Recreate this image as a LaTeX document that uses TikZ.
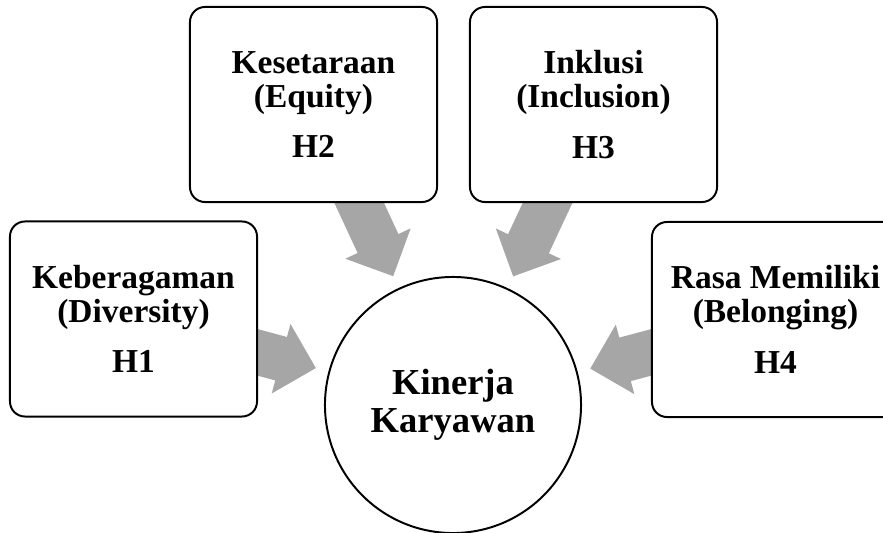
\documentclass[tikz,border=0pt]{standalone}
\usepackage{fontspec}
\setmainfont{Liberation Serif}
\usetikzlibrary{calc, backgrounds}
\definecolor{abuPanah}{HTML}{A6A6A6}

\begin{document}
\begin{tikzpicture}[x=0.025cm, y=-0.025cm,
        var/.style={draw=black, fill=white, line width=1.4pt, rounded corners=0.375cm,
            minimum width=6.175cm, minimum height=4.875cm, align=center, inner sep=2pt,
            font=\fontsize{23.8}{24}\selectfont\bfseries},
        dep/.style={draw=black, fill=white, circle, line width=1.4pt, minimum size=6.4cm,
            align=center, inner sep=0pt, font=\fontsize{26}{27}\selectfont\bfseries},
        rel/.style={fill=abuPanah, draw=none}
    ]
        \clip (0,0) rectangle (883,533);
        \node[dep] (kinerja) at (453,405) {Kinerja\\Karyawan};
        \node[var] (h1) at (133.5,319) {Keberagaman\\(Diversity)\\[12pt]H1};
        \node[var] (h2) at (313.5,104.5) {Kesetaraan\\(Equity)\\[12pt]H2};
        \node[var] (h3) at (593.5,104.5) {Inklusi\\(Inclusion)\\[12pt]H3};
        \node[var] (h4) at (775.5,319.5) {Rasa Memiliki\\(Belonging)\\[12pt]H4};

        % block arrows, behind the boxes
        \begin{scope}[on background layer]
            \foreach \h in {h1,h2,h3,h4} {
                \path (\h) -- (kinerja) coordinate[pos=0] (\h-a) coordinate[pos=1] (\h-b);
                \coordinate (\h-s) at ($(\h-a)!-0.6cm!(\h-b)$);
                \coordinate (\h-t) at ($(\h-b)!0.325cm!(\h-a)$);
                \coordinate (\h-k) at ($(\h-t)!0.9cm!(\h-a)$);
                \fill[rel] ($(\h-s)!0.5625cm!90:(\h-t)$) -- ($(\h-k)!0.5625cm!90:(\h-t)$)
                    -- ($(\h-k)!0.9cm!90:(\h-t)$) -- (\h-t) -- ($(\h-k)!0.9cm!-90:(\h-t)$)
                    -- ($(\h-k)!0.5625cm!-90:(\h-t)$) -- ($(\h-s)!0.5625cm!-90:(\h-t)$) -- cycle;
            }
        \end{scope}
    \end{tikzpicture}
\end{document}
